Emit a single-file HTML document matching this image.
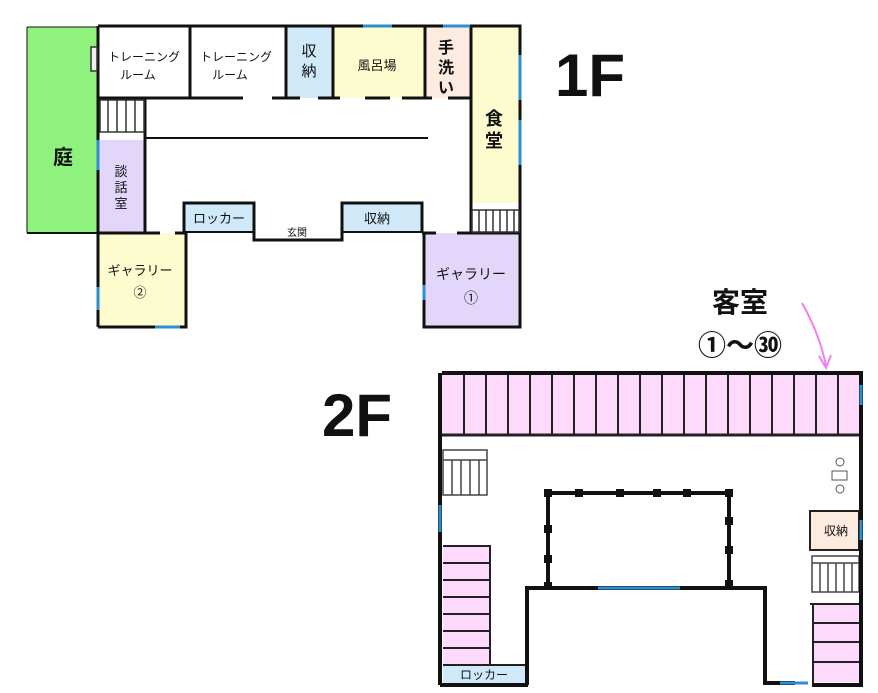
<!DOCTYPE html>
<html><head><meta charset="utf-8"><style>
html,body{margin:0;padding:0;background:#fff;}
svg{display:block;}
text{font-family:"Liberation Sans","Noto Sans CJK JP",sans-serif;fill:#111;}
</style></head><body>
<svg width="878" height="693" viewBox="0 0 878 693" xmlns="http://www.w3.org/2000/svg">
<!-- ===== 1F ===== -->
<g stroke="none">
<rect x="27" y="27" width="71" height="206" fill="#8ef27c"/>
<rect x="98" y="27" width="92" height="71" fill="#fff"/>
<rect x="190" y="27" width="96" height="71" fill="#fff"/>
<rect x="286" y="27" width="47" height="71" fill="#cfe9f8"/>
<rect x="333" y="27" width="92" height="71" fill="#fdfccf"/>
<rect x="425" y="27" width="46" height="71" fill="#fdebe0"/>
<rect x="471" y="27" width="49" height="176" fill="#fdfccf"/>
<rect x="98" y="140" width="47" height="93" fill="#e2d6fa"/>
<rect x="184" y="203" width="70" height="29" fill="#cfe9f8"/>
<rect x="342" y="203" width="80" height="29" fill="#cfe9f8"/>
<rect x="98" y="233" width="88" height="94" fill="#fdfccf"/>
<rect x="424" y="233" width="96" height="94" fill="#e2d6fa"/>
</g>
<g fill="none" stroke="#111" stroke-width="3">
<!-- outer -->
<polyline points="98,26 520,26 520,233"/>
<line x1="27" y1="233" x2="98" y2="233" stroke-width="2"/>
<line x1="27" y1="27" x2="98" y2="27" stroke-width="1"/>
<line x1="27" y1="27" x2="27" y2="233" stroke-width="1"/>
<line x1="98" y1="26" x2="98" y2="327"/>
<polyline points="98,327 186,327 186,233"/>
<polyline points="424,233 424,327 520,327 520,233"/>
<!-- top rooms -->
<line x1="190" y1="26" x2="190" y2="98"/>
<line x1="286" y1="26" x2="286" y2="98"/>
<line x1="333" y1="26" x2="333" y2="98"/>
<line x1="425" y1="26" x2="425" y2="98"/>
<line x1="471" y1="26" x2="471" y2="233"/>
<line x1="98" y1="98" x2="243" y2="98"/>
<line x1="272" y1="98" x2="300" y2="98"/>
<line x1="318" y1="98" x2="340" y2="98"/>
<line x1="365" y1="98" x2="390" y2="98"/>
<line x1="402" y1="98" x2="432" y2="98"/>
<line x1="448" y1="98" x2="471" y2="98"/>
<!-- corridor -->
<line x1="145" y1="138" x2="428" y2="138" stroke-width="2"/>
<line x1="145" y1="98" x2="145" y2="233"/>
<line x1="98" y1="233" x2="160" y2="233"/>
<line x1="175" y1="233" x2="186" y2="233"/>
<!-- entrance -->
<polyline points="184,232 184,203 254,203 254,240 342,240 342,203 422,203 422,233"/>
<line x1="184" y1="232" x2="254" y2="232" stroke-width="2"/>
<line x1="342" y1="232" x2="422" y2="232" stroke-width="2"/>
<line x1="422" y1="233" x2="436" y2="233"/>
<line x1="457" y1="233" x2="520" y2="233"/>
</g>
<!-- 1F stairs -->
<g stroke="#333" stroke-width="1.5" fill="#fff">
<rect x="100" y="100" width="44" height="32"/>
<line x1="108" y1="100" x2="108" y2="132"/><line x1="117" y1="100" x2="117" y2="132"/><line x1="126" y1="100" x2="126" y2="132"/><line x1="135" y1="100" x2="135" y2="132"/>
<rect x="472" y="210" width="47" height="22"/>
<line x1="479" y1="210" x2="479" y2="232"/><line x1="486" y1="210" x2="486" y2="232"/><line x1="493" y1="210" x2="493" y2="232"/><line x1="500" y1="210" x2="500" y2="232"/><line x1="507" y1="210" x2="507" y2="232"/><line x1="514" y1="210" x2="514" y2="232"/>
<rect x="91" y="47" width="6" height="24" fill="#eee"/>
</g>
<!-- 1F blue windows -->
<g stroke="#2d8fd0" stroke-width="3">
<line x1="363" y1="26" x2="392" y2="26"/>
<line x1="443" y1="26" x2="470" y2="26"/>
<line x1="520" y1="55" x2="520" y2="100"/>
<line x1="520" y1="120" x2="520" y2="165"/>
<line x1="98" y1="287" x2="98" y2="310"/>
<line x1="155" y1="327" x2="180" y2="327"/>
<line x1="424" y1="285" x2="424" y2="300"/>
<line x1="98" y1="140" x2="98" y2="170"/>
</g>
<!-- 1F labels -->
<text x="63" y="164" font-size="20" font-weight="bold" text-anchor="middle">庭</text>
<text x="144" y="61" font-size="12" text-anchor="middle">トレーニング</text>
<text x="138" y="79" font-size="12" text-anchor="middle">ルーム</text>
<text x="236" y="61" font-size="12" text-anchor="middle">トレーニング</text>
<text x="230" y="79" font-size="12" text-anchor="middle">ルーム</text>
<text x="309" y="56" font-size="15" text-anchor="middle">収</text>
<text x="309" y="76" font-size="15" text-anchor="middle">納</text>
<text x="377" y="70" font-size="13" text-anchor="middle">風呂場</text>
<text x="446" y="53" font-size="16" font-weight="bold" text-anchor="middle">手</text>
<text x="446" y="73" font-size="16" font-weight="bold" text-anchor="middle">洗</text>
<text x="446" y="93" font-size="16" font-weight="bold" text-anchor="middle">い</text>
<text x="494" y="125" font-size="18" font-weight="bold" text-anchor="middle">食</text>
<text x="494" y="147" font-size="18" font-weight="bold" text-anchor="middle">堂</text>
<text x="121" y="176" font-size="13" text-anchor="middle">談</text>
<text x="121" y="192" font-size="13" text-anchor="middle">話</text>
<text x="121" y="208" font-size="13" text-anchor="middle">室</text>
<text x="219" y="223" font-size="13" text-anchor="middle">ロッカー</text>
<text x="297" y="236" font-size="10" text-anchor="middle">玄関</text>
<text x="377" y="223" font-size="13" text-anchor="middle">収納</text>
<text x="140" y="275" font-size="13" text-anchor="middle">ギャラリー</text>
<text x="140" y="297" font-size="13" text-anchor="middle">②</text>
<text x="471" y="279" font-size="14" text-anchor="middle">ギャラリー</text>
<text x="471" y="303" font-size="14" text-anchor="middle">①</text>
<text x="590" y="96" font-size="60" font-weight="bold" text-anchor="middle">1F</text>
<text x="357" y="436" font-size="60" font-weight="bold" text-anchor="middle">2F</text>
<!-- 客室 -->
<text x="740" y="312" font-size="28" font-weight="bold" text-anchor="middle">客室</text>
<text x="740" y="355" font-size="28" font-weight="bold" text-anchor="middle">①〜㉚</text>
<path d="M802,303 Q820,335 826,366" stroke="#f47ef0" stroke-width="2" fill="none"/>
<path d="M819,356 L826,368 L831,355" stroke="#f47ef0" stroke-width="2" fill="none"/>

<!-- ===== 2F ===== -->
<rect x="442" y="375" width="417" height="60" fill="#fdd9fb"/>
<g stroke="#222" stroke-width="2">
<line x1="442" y1="435" x2="859" y2="435" stroke-width="3"/>
<line x1="464" y1="375" x2="464" y2="435"/><line x1="486" y1="375" x2="486" y2="435"/><line x1="508" y1="375" x2="508" y2="435"/><line x1="530" y1="375" x2="530" y2="435"/><line x1="552" y1="375" x2="552" y2="435"/><line x1="574" y1="375" x2="574" y2="435"/><line x1="596" y1="375" x2="596" y2="435"/><line x1="618" y1="375" x2="618" y2="435"/><line x1="640" y1="375" x2="640" y2="435"/><line x1="662" y1="375" x2="662" y2="435"/><line x1="684" y1="375" x2="684" y2="435"/><line x1="706" y1="375" x2="706" y2="435"/><line x1="728" y1="375" x2="728" y2="435"/><line x1="750" y1="375" x2="750" y2="435"/><line x1="772" y1="375" x2="772" y2="435"/><line x1="794" y1="375" x2="794" y2="435"/><line x1="816" y1="375" x2="816" y2="435"/><line x1="838" y1="375" x2="838" y2="435"/>
</g>
<!-- left pink column -->
<rect x="443" y="546" width="47" height="119" fill="#fdd9fb"/>
<g stroke="#222" stroke-width="2">
<line x1="443" y1="546" x2="491" y2="546"/><line x1="490" y1="546" x2="490" y2="665"/>
<line x1="443" y1="563" x2="490" y2="563"/><line x1="443" y1="580" x2="490" y2="580"/><line x1="443" y1="597" x2="490" y2="597"/><line x1="443" y1="614" x2="490" y2="614"/><line x1="443" y1="631" x2="490" y2="631"/><line x1="443" y1="648" x2="490" y2="648"/>
</g>
<rect x="443" y="665" width="84" height="18" fill="#cfe9f8"/>
<line x1="443" y1="665" x2="527" y2="665" stroke="#222" stroke-width="2"/>
<text x="484" y="679" font-size="12" text-anchor="middle">ロッカー</text>
<!-- right pink column -->
<rect x="812" y="604" width="47" height="78" fill="#fdd9fb"/>
<g stroke="#222" stroke-width="2">
<line x1="810" y1="604" x2="859" y2="604"/><line x1="813" y1="604" x2="813" y2="683"/>
<line x1="813" y1="623" x2="859" y2="623"/><line x1="813" y1="642" x2="859" y2="642"/><line x1="813" y1="662" x2="859" y2="662"/>
</g>
<rect x="810" y="511" width="49" height="39" fill="#fdebe0" stroke="#222" stroke-width="2"/>
<text x="836" y="535" font-size="12" text-anchor="middle">収納</text>
<!-- 2F stairs -->
<g stroke="#444" stroke-width="1.5" fill="#fff">
<rect x="443" y="450" width="44" height="45"/>
<line x1="443" y1="460" x2="487" y2="460"/>
<line x1="452" y1="460" x2="452" y2="495"/><line x1="461" y1="460" x2="461" y2="495"/><line x1="470" y1="460" x2="470" y2="495"/><line x1="479" y1="460" x2="479" y2="495"/>
<rect x="812" y="556" width="47" height="36"/>
<line x1="812" y1="563" x2="859" y2="563"/>
<line x1="820" y1="563" x2="820" y2="592"/><line x1="828" y1="563" x2="828" y2="592"/><line x1="836" y1="563" x2="836" y2="592"/><line x1="844" y1="563" x2="844" y2="592"/><line x1="852" y1="563" x2="852" y2="592"/>
</g>
<g stroke="#555" stroke-width="1" fill="#fff">
<circle cx="840" cy="462" r="4"/>
<rect x="832" y="471" width="15" height="9"/>
<circle cx="840" cy="489" r="4"/>
</g>
<!-- 2F walls -->
<g fill="none" stroke="#111" stroke-width="4">
<polyline points="442,373 861,373 861,685 812,685"/>
<line x1="440" y1="373" x2="440" y2="685"/>
<line x1="440" y1="685" x2="528" y2="685"/>
<polyline points="527,685 527,588 765,588 765,683 795,683"/>
<rect x="548" y="493" width="181" height="95"/>
</g>
<g fill="#111">
<rect x="544" y="489" width="8" height="8"/><rect x="575" y="489" width="8" height="8"/><rect x="616" y="489" width="8" height="8"/><rect x="653" y="489" width="8" height="8"/><rect x="683" y="489" width="8" height="8"/><rect x="725" y="489" width="8" height="8"/>
<rect x="544" y="525" width="8" height="8"/><rect x="544" y="555" width="8" height="8"/><rect x="544" y="582" width="8" height="8"/>
<rect x="725" y="517" width="8" height="8"/><rect x="725" y="546" width="8" height="8"/><rect x="725" y="580" width="8" height="8"/>
</g>
<g stroke="#2d8fd0" stroke-width="3">
<line x1="598" y1="588" x2="680" y2="588"/>
<line x1="780" y1="683" x2="808" y2="683"/>
<line x1="440" y1="505" x2="440" y2="532"/>
<line x1="861" y1="385" x2="861" y2="405"/>
<line x1="861" y1="520" x2="861" y2="540"/>
</g>
</svg>
</body></html>
